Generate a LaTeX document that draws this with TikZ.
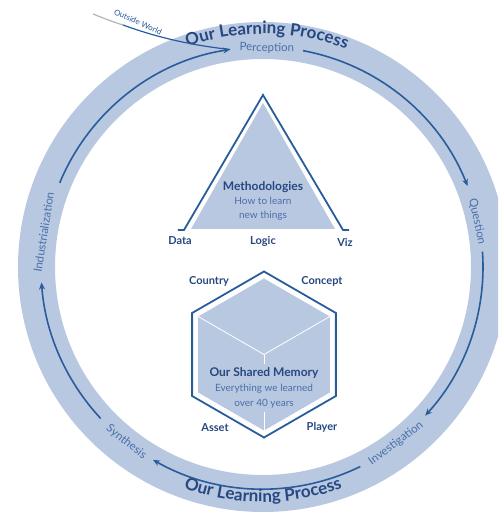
\documentclass[tikz,border=0pt]{standalone}
\usepackage{fontspec}
\setmainfont{Lato}
\usepackage{xcolor}
\usetikzlibrary{arrows.meta}
\usetikzlibrary{decorations.text}
\definecolor{band}{RGB}{185, 200, 225}
\definecolor{ln}{RGB}{40, 92, 155}
\definecolor{nv}{RGB}{38, 72, 128}
\definecolor{lt}{RGB}{72, 112, 168}
\definecolor{gr}{RGB}{175, 180, 190}

\begin{document}
\begin{tikzpicture}[x=1pt, y=1pt,
    flow/.style={ln, line width=1.6pt, -{Stealth[length=7pt, width=6pt]}},
    stage/.style={lt, font=\fontsize{11.5}{12}\selectfont, inner sep=1pt},
    corner/.style={nv, font=\fontsize{11}{12}\selectfont\bfseries},
    title/.style={nv, font=\fontsize{12}{13}\selectfont\bfseries},
    sub/.style={lt, font=\fontsize{10}{14}\selectfont, align=center},
    outline/.style={ln, line width=1.8pt},
    inner/.style={white, line width=0.8pt}]
        \clip (-263,-246) rectangle (235,267);
        \useasboundingbox (-263,-246) rectangle (235,267);
        \fill[band, even odd rule] (0,0) circle (245) (0,0) circle (208);
        \path[decorate, decoration={text along path, text align=center,
            text={|\fontsize{17}{18}\selectfont\bfseries\color{nv}|Our Learning Process}}]
            (119:233) arc[start angle=119, end angle=59, radius=233];
        \path[decorate, decoration={text along path, text align=center,
            text={|\fontsize{17}{18}\selectfont\bfseries\color{nv}|Our Learning Process}}]
            (-120:235) arc[start angle=-120, end angle=-60, radius=235];
        \node[stage, rotate=-1] (perc) at (89:219) {Perception};
        \node[stage, rotate=-78] (quest) at (12:219) {Question};
        \node[stage, rotate=37] (inv) at (-53:221) {Investigation};
        \node[stage, rotate=-38] (syn) at (-128:222) {Synthesis};
        \node[stage, rotate=81] (ind) at (171:222) {Industrialization};
        \coordinate (ind-out) at (157.5:220);
        \coordinate (perc-in) at (98.6:220);
        \coordinate (perc-out) at (79.5:220);
        \coordinate (quest-out) at (4:220);
        \coordinate (inv-out) at (-64:222);
        \coordinate (syn-out) at (-137:222);
        \coordinate (world) at (-170,253);
        \coordinate (world-b) at (-140,242);
        \draw[flow] (ind-out) arc[start angle=157.5, end angle=98.6, radius=220];
        \draw[flow] (perc-out) arc[start angle=79.5, end angle=21.6, radius=220];
        \draw[flow] (quest-out) arc[start angle=4, end angle=-42.5, radius=220];
        \draw[flow] (inv-out) arc[start angle=-64, end angle=-119.7, radius=222];
        \draw[flow] (syn-out) arc[start angle=-137, end angle=-176, radius=222];
        \draw[gr, line width=1.2pt] (world) .. controls (-160,249) and (-150,245) .. (world-b);
        \draw[ln, line width=1.2pt] (world-b) .. controls (-110,231) and (-75,222) .. (perc-in);
        \node[ln, font=\fontsize{8}{9}\selectfont, rotate=-24] (outw) at (-125,245) {Outside World};
        % methodologies
        \fill[band] (0,164) -- (-72,38) -- (72,38) -- cycle;
        \draw[outline] (-85,37) -- (-79,37) -- (0,172) -- (80,37) -- (86,37);
        \node[title] (meth) at (0,80) {Methodologies};
        \node[sub] (learn) at (0,58) {How to learn\\new things};
        \node[corner] (data) at (-83,26) {Data};
        \node[corner] (logic) at (0,26) {Logic};
        \node[corner] (viz) at (82,25) {Viz};
        % shared memory
        \begin{scope}[shift={(1,-87.5)}]
            \fill[band] (90:76) -- (30:76) -- (-30:76) -- (-90:76) -- (-150:76) -- (150:76) -- cycle;
            \draw[outline] (90:83) -- (30:83) -- (-30:83) -- (-90:83) -- (-150:83) -- (150:83) -- cycle;
            \coordinate (mid) at (0,0);
            \node[title] (mem) at (0,-18.5) {Our Shared Memory};
            \node[sub] (every) at (0,-34.5) {Everything we learned};
            \node[sub] (years) at (0,-49.5) {over 40 years};
            \draw[inner] (150:76) -- (mid) -- (30:76);
            \draw[inner] (mid) -- (mem.north);
            \draw[inner] (years.south) -- (-90:76);
            \node[corner] (country) at (-55,73.5) {Country};
            \node[corner] (concept) at (58,73.5) {Concept};
            \node[corner] (asset) at (-49,-73.5) {Asset};
            \node[corner] (player) at (58,-72.5) {Player};
        \end{scope}
    \end{tikzpicture}
\end{document}
